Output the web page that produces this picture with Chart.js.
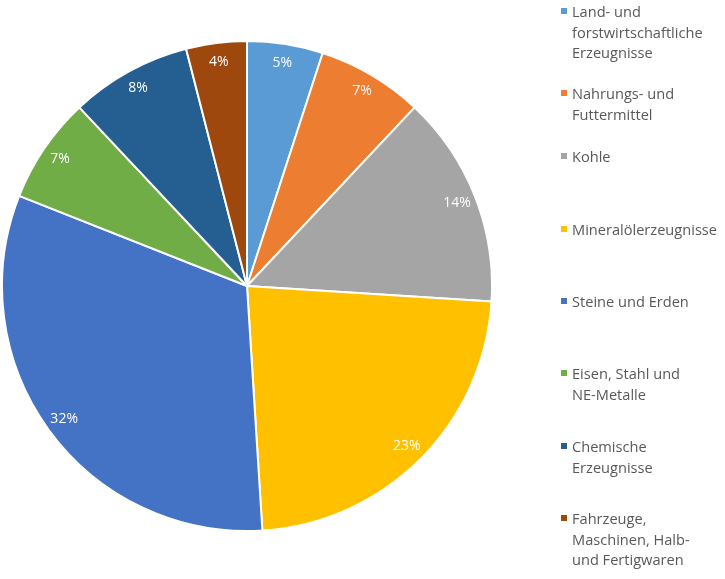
<!doctype html>
<html lang="de">
<head>
<meta charset="utf-8">
<title>Gütergruppen</title>
<script src="https://cdn.jsdelivr.net/npm/chart.js@4.4.0/dist/chart.umd.min.js"></script>
<style>
  body { margin:0; background:#fff; width:725px; height:579px; overflow:hidden; position:relative; font-family:"Open Sans", sans-serif; }
  #wrap { position:absolute; left:0; top:0; width:494px; height:579px; }
  #legend { position:absolute; left:0; top:0; width:725px; height:579px; pointer-events:none; }
  .item { position:absolute; left:572px; font-size:14.6px; line-height:20.5px; color:#595959; white-space:nowrap; }
  .box { position:absolute; left:-11px; top:7px; width:6px; height:6px; }
</style>
</head>
<body>
<div id="wrap"><canvas id="pie" width="494" height="579"></canvas></div>
<div id="legend"></div>
<script>
// categories (legend text, line breaks as in the picture)
var labels = [
  ["Land- und", "forstwirtschaftliche", "Erzeugnisse"],
  ["Nahrungs- und", "Futtermittel"],
  ["Kohle"],
  ["Mineralölerzeugnisse"],
  ["Steine und Erden"],
  ["Eisen, Stahl und", "NE-Metalle"],
  ["Chemische", "Erzeugnisse"],
  ["Fahrzeuge,", "Maschinen, Halb-", "und Fertigwaren"]
];
// share in percent
var values = [5, 7, 14, 23, 32, 7, 8, 4];
var colors = ["#5B9BD5", "#ED7D31", "#A5A5A5", "#FFC000", "#4472C4", "#70AD47", "#255E91", "#9E480E"];

// legend rows, top of first line
var legendTops = [1, 83, 146, 219, 291, 363, 436, 508];

// percent labels near the outer edge, like excel "inside end"
var pctLabels = {
  id: 'pctLabels',
  afterDatasetsDraw: function(chart) {
    var ctx = chart.ctx;
    var arcs = chart.getDatasetMeta(0).data;
    ctx.save();
    ctx.font = '14px "Open Sans", sans-serif';
    ctx.fillStyle = '#ffffff';
    ctx.textAlign = 'center';
    ctx.textBaseline = 'middle';
    arcs.forEach(function(arc, i) {
      var p = arc.getProps(['x', 'y', 'startAngle', 'endAngle', 'outerRadius']);
      var mid = (p.startAngle + p.endAngle) / 2;
      var r = p.outerRadius - 19;
      ctx.fillText(values[i] + '%', p.x + Math.cos(mid) * r, p.y + Math.sin(mid) * r);
    });
    ctx.restore();
  }
};

var chart = new Chart(document.getElementById('pie'), {
  type: 'pie',
  data: {
    labels: labels.map(function(l) { return l.join(' '); }),
    datasets: [{
      data: values,
      backgroundColor: colors,
      borderColor: '#ffffff',
      borderWidth: 2,
      hoverOffset: 0
    }]
  },
  options: {
    responsive: false,
    animation: false,
    layout: { padding: { top: 40, bottom: 47, left: 1, right: 1 } },
    plugins: {
      legend: { display: false },
      tooltip: { enabled: false }
    }
  },
  plugins: [pctLabels]
});

// html legend so the labels can wrap like the original
var leg = document.getElementById('legend');
labels.forEach(function(lines, i) {
  var d = document.createElement('div');
  d.className = 'item';
  d.style.top = legendTops[i] + 'px';
  d.innerHTML = '<span class="box" style="background:' + colors[i] + '"></span>' + lines.join('<br>');
  leg.appendChild(d);
});
</script>
</body>
</html>
